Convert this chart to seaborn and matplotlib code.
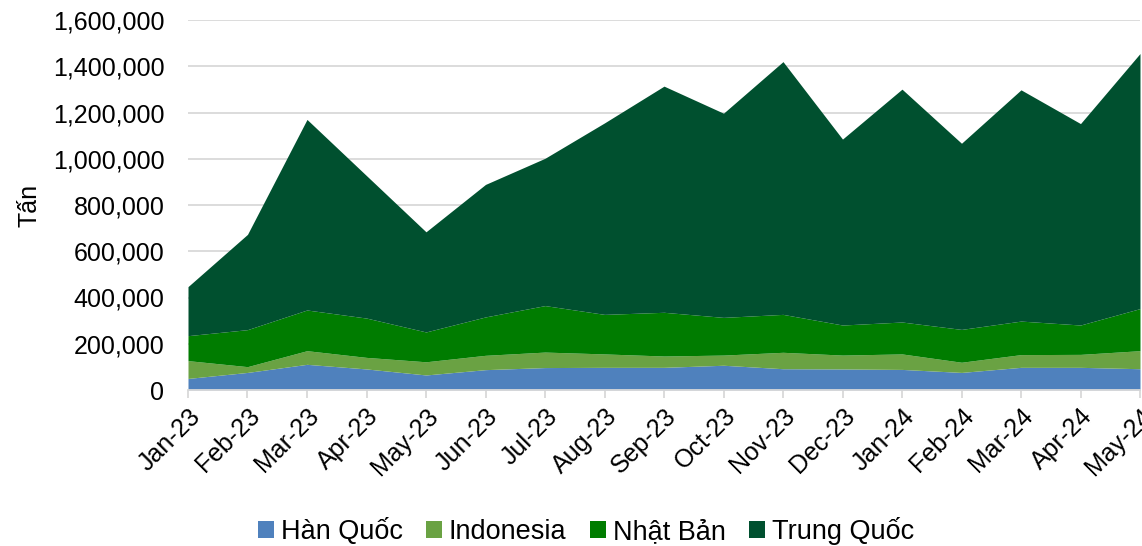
import numpy as np
import pandas as pd
import matplotlib
matplotlib.use("Agg")
import matplotlib.pyplot as plt
from matplotlib.ticker import FuncFormatter
from matplotlib.patches import Patch
import seaborn as sns

months = ["Jan-23", "Feb-23", "Mar-23", "Apr-23", "May-23", "Jun-23", "Jul-23",
          "Aug-23", "Sep-23", "Oct-23", "Nov-23", "Dec-23", "Jan-24", "Feb-24",
          "Mar-24", "Apr-24", "May-24"]
han_quoc = [50000, 76000, 111000, 91000, 65000, 88000, 97000, 98000, 98000,
            107000, 92000, 91000, 89000, 76000, 98000, 98000, 92000]
indonesia = [77000, 25000, 59000, 50000, 57000, 62000, 67000, 58000, 49000,
             44000, 71000, 60000, 67000, 44000, 55000, 56000, 78000]
nhat_ban = [108000, 160000, 176000, 170000, 129000, 166000, 201000, 171000,
            189000, 163000, 164000, 130000, 138000, 142000, 145000, 127000, 182000]
trung_quoc = [212000, 412000, 824000, 616000, 433000, 573000, 637000, 828000,
              978000, 883000, 1093000, 804000, 1007000, 805000, 1000000, 871000,
              1103000]
series_names = ["Hàn Quốc", "Indonesia", "Nhật Bản", "Trung Quốc"]
colors = ["#4F81BD", "#6AA243", "#007C00", "#00502F"]

df = pd.DataFrame({"month": months, series_names[0]: han_quoc,
                   series_names[1]: indonesia, series_names[2]: nhat_ban,
                   series_names[3]: trung_quoc})

sns.set_theme(style="white")
plt.rcParams["font.family"] = ["Liberation Sans", "DejaVu Sans"]
plt.rcParams["text.color"] = "black"
plt.rcParams["axes.labelcolor"] = "black"
plt.rcParams["xtick.color"] = "black"
plt.rcParams["ytick.color"] = "black"

fig = plt.figure(figsize=(11.42, 5.46), dpi=100)
ax = fig.add_axes([188 / 1142, 156 / 546, (1140 - 188) / 1142, 370 / 546])

x = np.arange(len(months))
ax.stackplot(x, [df[n].values for n in series_names], colors=colors,
             linewidth=0, zorder=2)

ax.set_xlim(0, len(months) - 1)
ax.set_ylim(0, 1600000)
ax.set_yticks(np.arange(0, 1600001, 200000))
ax.yaxis.set_major_formatter(FuncFormatter(lambda v, p: f"{int(v):,}"))
ax.grid(axis="y", color="#D9D9D9", linewidth=1.3, zorder=0)
ax.set_axisbelow(True)

ax.set_xticks(x)
ax.set_xticklabels(months, rotation=45, ha="right", rotation_mode="anchor")
ax.tick_params(axis="x", which="major", length=6, color="#D9D9D9", width=1.3,
               labelsize=18, pad=4, bottom=True, labelcolor="black")
ax.tick_params(axis="y", length=0, labelsize=18, pad=17, labelcolor="black")

for s in ["top", "right", "left"]:
    ax.spines[s].set_visible(False)
ax.spines["bottom"].set_color("#D9D9D9")
ax.spines["bottom"].set_linewidth(1.3)
ax.spines["bottom"].set_zorder(3)

ax.set_ylabel("Tấn", fontsize=18, labelpad=8, color="black")

handles = [Patch(facecolor=c, edgecolor="none") for c in colors]
fig.legend(handles, series_names, loc="center", bbox_to_anchor=(0.513, 15 / 546),
           ncol=4, frameon=False, fontsize=19.5, handlelength=0.6,
           handleheight=0.6, handletextpad=0.25, columnspacing=0.85,
           labelcolor="black")

fig.savefig("out.png", dpi=100)
